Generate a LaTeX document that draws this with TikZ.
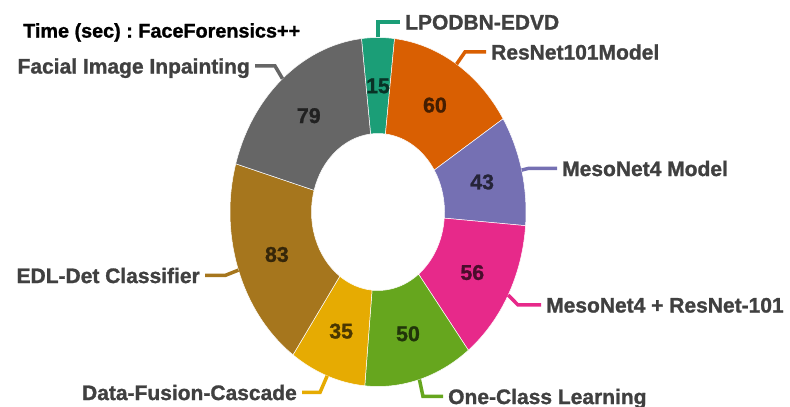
\documentclass[tikz,border=0pt]{standalone}
\usepackage{fontspec}
\setmainfont{Liberation Sans}[BoldFeatures={FakeBold=1.2}]
\usetikzlibrary{calc}
\frenchspacing

% Dark2 palette
\definecolor{cA}{HTML}{1B9E77}
\definecolor{cB}{HTML}{D95F02}
\definecolor{cC}{HTML}{7570B3}
\definecolor{cD}{HTML}{E7298A}
\definecolor{cE}{HTML}{66A61E}
\definecolor{cF}{HTML}{E6AB02}
\definecolor{cG}{HTML}{A6761D}
\definecolor{cH}{HTML}{666666}
\definecolor{labelgray}{HTML}{404040}

\tikzset{
  lbl/.style={font=\bfseries\fontsize{21}{24}\selectfont, text=labelgray,
    inner xsep=5pt, inner ysep=0pt, text height=15.1pt, text depth=0pt},
  valtxt/.style={font=\bfseries\fontsize{21.3}{24}\selectfont, inner sep=0pt,
    text height=15.3pt, text depth=0pt},
  lead/.style={line width=3.5pt, line join=miter},
}

\begin{document}
\begin{tikzpicture}[x=1pt,y=1pt]
\useasboundingbox (0,0) rectangle (790,407);
\coordinate (c) at (378,195);

% ring sectors, clockwise from the top
\foreach \a/\b/\col in {96.413/83.587/cA, 83.587/32.280/cB, 32.280/-4.489/cC,
    -4.489/-52.375/cD, -52.375/-95.131/cE, -95.131/-125.059/cF,
    -125.059/-196.033/cG, -196.033/-263.587/cH}{
  \fill[\col, draw=white, line width=0.5pt]
    ($(c)+(\a:148pt and 174.5pt)$)
    arc[start angle=\a, end angle=\b, x radius=148pt, y radius=174.5pt]
    -- ($(c)+(\b:66.5pt and 78.5pt)$)
    arc[start angle=\b, end angle=\a, x radius=66.5pt, y radius=78.5pt]
    -- cycle;
}

% values inside the ring
\foreach \m/\v/\col [count=\i] in {90/15/cA, 57.934/60/cB, 13.896/43/cC,
    -28.432/56/cD, -73.753/50/cE, -110.095/35/cF, -160.546/83/cG,
    -229.810/79/cH}{
  \node[valtxt, text=\col!32!black] (v\i) at ($(c)+(\m:107.25pt and 126.5pt)$) {\v};
  \coordinate (e\i) at ($(c)+(\m:148pt and 174.5pt)$);
}

% title
\node[font=\bfseries\fontsize{19.8}{24}\selectfont, anchor=west, inner sep=0pt,
  text height=14.2pt, text depth=0pt] (title) at (23,376.5) {Time (sec) : FaceForensics++};

% outer labels
\node[lbl, anchor=west] (l1) at (400,385) {LPODBN-EDVD};
\node[lbl, anchor=west] (l2) at (486,355) {ResNet101Model};
\node[lbl, anchor=west] (l3) at (557,238.5) {MesoNet4 Model};
\node[lbl, anchor=west] (l4) at (541,102) {MesoNet4 + ResNet-101};
\node[lbl, anchor=west] (l5) at (443,10.5) {One-Class Learning};
\node[lbl, anchor=east] (l6) at (302,14.5) {Data-Fusion-Cascade};
\node[lbl, anchor=east] (l7) at (205,131.5) {EDL-Det Classifier};
\node[lbl, anchor=east] (l8) at (255,341) {Facial Image Inpainting};

% leader elbows
\coordinate (k1) at (378,385);
\coordinate (k2) at (465,355);
\coordinate (k3) at (528,238.5);
\coordinate (k4) at (518,102);
\coordinate (k5) at (423,10.5);
\coordinate (k6) at (320,14.5);
\coordinate (k7) at (225,131.5);
\coordinate (k8) at (275,341);

% leader lines
\draw[lead, cA] (e1) -- (k1) -- (l1.west);
\draw[lead, cB] (e2) -- (k2) -- (l2.west);
\draw[lead, cC] (e3) -- (k3) -- (l3.west);
\draw[lead, cD] (e4) -- (k4) -- (l4.west);
\draw[lead, cE] (e5) -- (k5) -- (l5.west);
\draw[lead, cF] (e6) -- (k6) -- (l6.east);
\draw[lead, cG] (e7) -- (k7) -- (l7.east);
\draw[lead, cH] (e8) -- (k8) -- (l8.east);
\end{tikzpicture}
\end{document}
